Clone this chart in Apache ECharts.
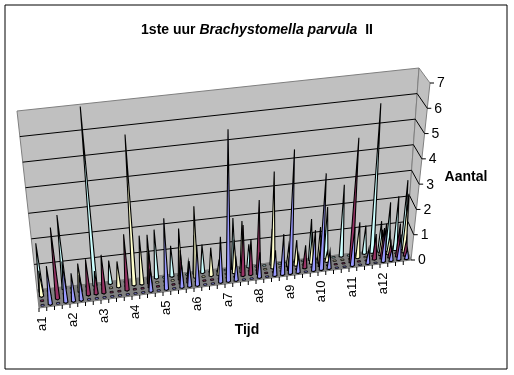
<!DOCTYPE html>
<html>
<head>
<meta charset="utf-8">
<style>html,body{margin:0;padding:0;background:#fff}#main{width:514px;height:375px}</style>
<script src="https://cdn.jsdelivr.net/npm/echarts@6/dist/echarts.min.js"></script>
</head>
<body>
<div id="main"></div>
<script>
// four rows, front to back; 48 time slots (a1..a12 every 4th)
const slots = Array.from({ length: 48 }, (_, i) => "t" + i);
const groupLabels = ["a1", "a2", "a3", "a4", "a5", "a6", "a7", "a8", "a9", "a10", "a11", "a12"];
const yTicks = [0, 1, 2, 3, 4, 5, 6, 7];
const rowBlue = [0, 1.5, 0, 1.6, 1.1, 1, 0, 0, 0, 0, 0, 0, 0, 0, 0.9, 0, 2.8, 0, 1, 1, 1.6, 0, 0, 1.8, 6, 0.8, 0, 0, 1, 0, 1, 1.6, 4.9, 0.7, 0, 1.6, 3.8, 0.7, 0, 0, 1.5, 0, 0.6, 0, 1.5, 0.5, 1, 0.4];
const rowMaroon = [0, 0, 2.8, 0, 0, 0, 1.4, 0.9, 1.5, 0, 0, 2.2, 0, 0, 1.5, 0, 0, 0, 1.3, 0.8, 0, 0, 0, 0, 0, 0, 2, 1.4, 2.9, 0, 0, 0, 0.7, 0, 0.9, 0, 1.2, 0, 0, 0, 4.9, 0, 0, 1, 1.2, 0.6, 1.3, 0.7];
const rowYellow = [1, 0, 0, 0, 0, 1.1, 0, 0, 0, 0, 1, 0, 5.9, 1.9, 1.9, 0, 0, 0, 2, 0, 2.8, 0, 1.1, 0.5, 0, 1.3, 2, 0, 0, 0, 3.8, 0, 0.8, 1, 0, 1.2, 1.4, 0.4, 0, 0, 0, 1.4, 0, 0, 1, 0.8, 0, 2.3];
const rowCyan = [1.9, 0, 0, 2.9, 0, 0, 0, 7, 0, 0.9, 0, 0, 0, 0, 0, 1.9, 0, 1.2, 0, 0, 1.5, 1.1, 0, 0, 0, 2, 0, 0.9, 0, 0, 1.4, 0, 0, 0, 0, 1.6, 0, 2, 0, 2.8, 0, 0, 1.1, 5.85, 1.2, 1.9, 2.1, 2.7];

const rows = [
  { name: "d", data: rowCyan, color: "#CCFFFF", depth: 0.875 },
  { name: "c", data: rowYellow, color: "#FFFFCC", depth: 0.625 },
  { name: "b", data: rowMaroon, color: "#993366", depth: 0.375 },
  { name: "a", data: rowBlue, color: "#9999FF", depth: 0.125 },
];

// pixel corners of the tilted box: back wall and front plane
const back = { bl: [37, 290], br: [406, 247], tr: [419, 68], tl: [17, 111] };
const front = { bl: [39, 308], br: [411, 260], tr: [430, 83], tl: [19, 130] };

const mix = (a, b, t) => [a[0] + (b[0] - a[0]) * t, a[1] + (b[1] - a[1]) * t];

// u along time, v up the value axis (both 0..1), depth 0 = front, 1 = back
function project(u, v, depth) {
  const bottom = mix(mix(front.bl, front.br, u), mix(back.bl, back.br, u), depth);
  const top = mix(mix(front.tl, front.tr, u), mix(back.tl, back.tr, u), depth);
  return mix(bottom, top, v);
}

function unit(params, p) {
  const cs = params.coordSys;
  return [(p[0] - cs.x) / cs.width, 1 - (p[1] - cs.y) / cs.height];
}

const chart = echarts.init(document.getElementById("main"), null, { renderer: "canvas" });

function renderWalls() {
  const poly = (pts, fill) => ({
    type: "polygon",
    shape: { points: pts },
    style: { fill, stroke: "#808080", lineWidth: 1 },
  });
  return {
    type: "group",
    children: [
      poly([project(0, 0, 1), project(1, 0, 1), project(1, 1, 1), project(0, 1, 1)], "#C0C0C0"),
      poly([project(1, 0, 1), project(1, 0, 0), project(1, 1, 0), project(1, 1, 1)], "#C0C0C0"),
      poly([project(0, 0, 1), project(1, 0, 1), project(1, 0, 0), project(0, 0, 0)], "#808080"),
    ],
  };
}

function renderYTick(params, api) {
  const v = unit(params, api.coord([0, api.value(1)]))[1];
  const a = project(0, v, 1);
  const b = project(1, v, 1);
  const c = project(1, v, 0);
  const line = (p, q, color) => ({
    type: "line",
    shape: { x1: p[0], y1: p[1], x2: q[0], y2: q[1] },
    style: { stroke: color, lineWidth: 1 },
  });
  const kids = [line(c, [c[0] + 4, c[1]], "#000")];
  if (v > 0 && v < 1) kids.push(line(a, b, "#000"), line(b, c, "#000"));
  kids.push({
    type: "text",
    x: c[0] + 7,
    y: c[1] + 0.5,
    style: { text: String(api.value(1)), fill: "#000", font: "14px 'Liberation Sans'", align: "left", verticalAlign: "middle" },
  });
  return { type: "group", children: kids };
}

function renderXTick(params, api) {
  const u = unit(params, api.coord([api.value(0), 0]))[0];
  const half = 0.5 / slots.length;
  const p = project(u - half, 0, 0);
  return {
    type: "line",
    shape: { x1: p[0], y1: p[1], x2: p[0], y2: p[1] + 4 },
    style: { stroke: "#000", lineWidth: 1 },
  };
}

function renderGroupLabel(params, api) {
  const idx = api.value(0);
  const u = unit(params, api.coord([idx, 0]))[0];
  const p = project(u, 0, 0);
  return {
    type: "text",
    x: p[0],
    y: p[1] + 9,
    rotation: Math.PI / 2,
    style: { text: groupLabels[idx / 4], fill: "#000", font: "13px 'Liberation Sans'", align: "right", verticalAlign: "middle" },
  };
}

function makeSpike(row) {
  return function (params, api) {
    const p = unit(params, api.coord([api.value(0), 0]));
    const h = unit(params, api.coord([api.value(0), api.value(1)]))[1];
    const slot = 1 / slots.length;
    const d = row.depth;
    const u = p[0];
    // flat marker on the floor when the count is zero
    if (h <= 0) {
      const su = 0.2 * slot;
      const sd = 0.045;
      return {
        type: "polygon",
        shape: { points: [project(u - su, 0, d - sd), project(u + su, 0, d - sd), project(u + su, 0, d + sd), project(u - su, 0, d + sd)] },
        style: { fill: row.color, stroke: "#000", lineWidth: 0.8 },
      };
    }
    const du = 0.27 * slot;
    const pts = [project(u - du, 0, d), project(u, 0, d - 0.06), project(u + du, 0, d), project(u, h, d)];
    return {
      type: "polygon",
      shape: { points: pts },
      style: { fill: row.color, stroke: "#000", lineWidth: 1.1 },
    };
  };
}

const spikeSeries = rows.map((row, k) => ({
  name: row.name,
  type: "custom",
  coordinateSystem: "cartesian2d",
  clip: false,
  silent: true,
  z: 10 + k,
  renderItem: makeSpike(row),
  encode: { x: 0, y: 1 },
  data: row.data.map((val, i) => [i, val]),
}));

chart.setOption({
  animation: false,
  backgroundColor: "#fff",
  textStyle: { fontFamily: "Liberation Sans" },
  title: [
    {
      left: 252,
      top: 18,
      textAlign: "center",
      text: "{b|1ste uur }{i|Brachystomella parvula}{b|  II}",
      textStyle: {
        rich: {
          b: { fontFamily: "Liberation Sans", fontSize: 14, fontWeight: "bold", color: "#000" },
          i: { fontFamily: "Liberation Sans", fontSize: 14, fontWeight: "bold", fontStyle: "italic", color: "#000" },
        },
      },
    },
    {
      left: 242,
      top: 318,
      textAlign: "center",
      text: "Tijd",
      textStyle: { fontFamily: "Liberation Sans", fontSize: 14, fontWeight: "bold", color: "#000" },
    },
    {
      left: 461,
      top: 165,
      textAlign: "center",
      text: "Aantal",
      textStyle: { fontFamily: "Liberation Sans", fontSize: 14, fontWeight: "bold", color: "#000" },
    },
  ],
  grid: {
    show: true,
    left: 5,
    top: 5,
    width: 502,
    height: 364,
    backgroundColor: "#fff",
    borderColor: "#000",
    borderWidth: 1,
  },
  xAxis: { type: "category", data: slots, show: false, boundaryGap: true },
  yAxis: { type: "value", min: 0, max: 7, interval: 1, show: false },
  series: [
    {
      type: "custom",
      clip: false,
      silent: true,
      z: 1,
      renderItem: renderWalls,
      data: [[0, 0]],
    },
    {
      type: "custom",
      clip: false,
      silent: true,
      z: 2,
      renderItem: renderYTick,
      encode: { x: 0, y: 1 },
      data: yTicks.map((t) => [0, t]),
    },
    {
      type: "custom",
      clip: false,
      silent: true,
      z: 3,
      renderItem: renderXTick,
      encode: { x: 0, y: 1 },
      data: slots.map((_, i) => [i, 0]),
    },
    {
      type: "custom",
      clip: false,
      silent: true,
      z: 3,
      renderItem: renderGroupLabel,
      encode: { x: 0, y: 1 },
      data: groupLabels.map((_, k) => [k * 4, 0]),
    },
    ...spikeSeries,
  ],
});
</script>
</body>
</html>
